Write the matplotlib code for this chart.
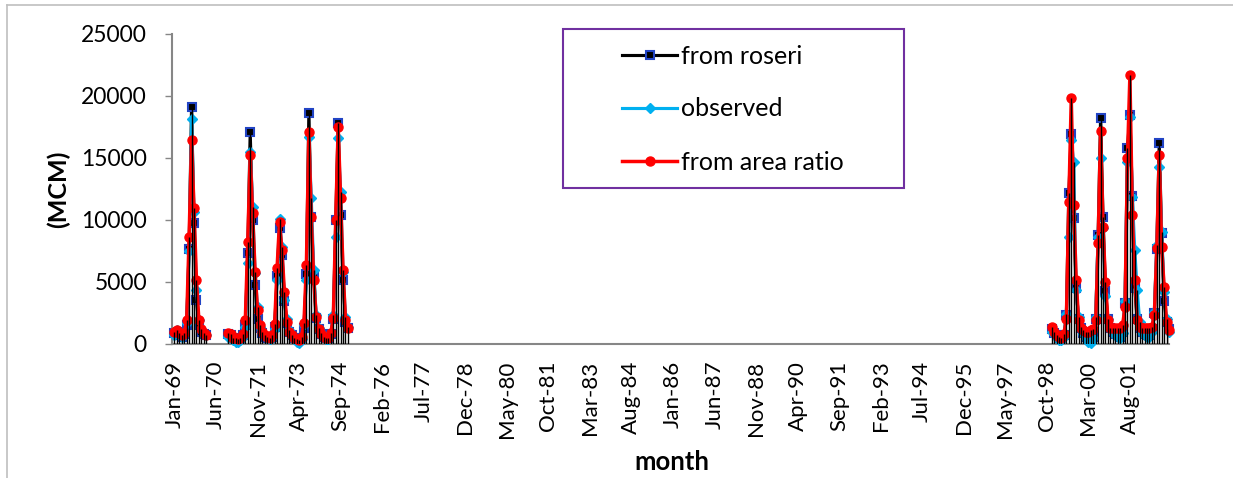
#!/usr/bin/env python3
"""Monthly flow (MCM): generated from Roseiris vs observed vs area-ratio method."""

from datetime import datetime

import matplotlib

matplotlib.use("Agg")
import matplotlib.pyplot as plt  # noqa: E402
import numpy as np  # noqa: E402
from matplotlib.lines import Line2D  # noqa: E402
from matplotlib.patches import Rectangle  # noqa: E402

# ---------------------------------------------------------------------------
# Data (MCM per month)
# ---------------------------------------------------------------------------

FIRST_MONTH = "Jan-69"
LAST_MONTH = "Dec-02"

TICK_LABELS = [
    "Jan-69", "Jun-70", "Nov-71", "Apr-73", "Sep-74", "Feb-76", "Jul-77", "Dec-78",
    "May-80", "Oct-81", "Mar-83", "Aug-84", "Jan-86", "Jun-87", "Nov-88", "Apr-90",
    "Sep-91", "Feb-93", "Jul-94", "Dec-95", "May-97", "Oct-98", "Mar-00", "Aug-01",
]
Y_TICKS = [0, 5000, 10000, 15000, 20000, 25000]

# segment 1: Jan-69 .. Feb-70
SEG1_START = "Jan-69"
ROSERI_1 = [900, 1000, 700, 600, 800, 1500, 7700, 19130, 9750, 3550, 1500, 1000, 800, 700]
OBSERVED_1 = [700, 1100, 800, 600, 900, 1700, 7500, 18110, 10660, 4350, 1900, 1200, 900, 700]
RATIO_1 = [1000, 1100, 900, 700, 900, 1900, 8650, 16440, 10960, 5160, 1930, 1200, 900, 700]

# segment 2: Nov-70 .. Dec-74
SEG2_START = "Nov-70"
ROSERI_2 = [
    800, 700,
    500, 400, 350, 400, 700, 1500, 7330, 17110, 10000, 4750, 2000, 1300,
    900, 600, 500, 450, 600, 1400, 5450, 9350, 7200, 3500, 1700, 1000,
    700, 500, 400, 300, 500, 1300, 5640, 18590, 10260, 5680, 2100, 1200,
    800, 600, 500, 450, 800, 2000, 10000, 17790, 10400, 5200, 1800, 1300,
]
OBSERVED_2 = [
    600, 500,
    300, 200, 200, 300, 600, 1400, 6530, 15500, 11070, 5720, 3000, 1400,
    1000, 700, 500, 400, 500, 1200, 5160, 10050, 7800, 3550, 2000, 1100,
    600, 400, 200, 100, 400, 1500, 5160, 16710, 11740, 5960, 2300, 1300,
    900, 600, 400, 400, 900, 2300, 8650, 16580, 12280, 5800, 2200, 1400,
]
RATIO_2 = [
    900, 800,
    500, 450, 400, 450, 800, 1900, 8250, 15230, 10560, 5830, 2740, 1500,
    1000, 700, 600, 500, 700, 1600, 6130, 9860, 7580, 4190, 1800, 1000,
    700, 500, 400, 300, 600, 1700, 6370, 17110, 10260, 5160, 2200, 1200,
    800, 600, 500, 500, 900, 2100, 9990, 17520, 11770, 5960, 1930, 1300,
]

# segment 3: Dec-98 .. Dec-02
SEG3_START = "Dec-98"
ROSERI_3 = [
    1200,
    900, 700, 500, 400, 700, 2300, 12150, 16970, 10200, 4500, 2000, 1300,
    900, 600, 400, 300, 600, 2000, 8790, 18240, 10260, 4300, 2000, 1300,
    1000, 800, 700, 600, 1000, 3300, 15770, 18500, 11900, 4500, 2000, 1300,
    1000, 800, 700, 700, 1200, 2500, 7700, 16170, 8920, 3500, 1800, 1200,
]
OBSERVED_3 = [
    1000,
    800, 500, 300, 300, 600, 2400, 8650, 16440, 14690, 4350, 2200, 1400,
    800, 500, 200, 100, 500, 2200, 8600, 15020, 9330, 3900, 2000, 1200,
    900, 700, 600, 500, 900, 3500, 14700, 18300, 11870, 7580, 4350, 1800,
    900, 700, 600, 600, 1000, 2600, 7980, 14290, 9000, 4220, 2000, 1000,
]
RATIO_3 = [
    1390,
    1000, 700, 600, 500, 800, 2000, 11470, 19800, 11200, 5200, 1900, 1300,
    1100, 1000, 1000, 1100, 1200, 1900, 8120, 17190, 9450, 5000, 1900, 1300,
    1300, 1300, 1300, 1300, 1500, 3000, 14970, 21680, 10400, 5160, 1900, 1400,
    1300, 1300, 1300, 1300, 1400, 2300, 7710, 15230, 7840, 4620, 1800, 1130,
]

SERIES_LABELS = ["from roseri", "observed", "from area ratio"]


def month_index(label: str) -> int:
    d = datetime.strptime(label, "%b-%y")
    first = datetime.strptime(FIRST_MONTH, "%b-%y")
    return (d.year - first.year) * 12 + (d.month - first.month)


def assemble(segments: list[tuple[str, list[float]]]) -> np.ndarray:
    out = np.full(month_index(LAST_MONTH) + 1, np.nan)
    for start, values in segments:
        i0 = month_index(start)
        out[i0:i0 + len(values)] = values
    return out


def main() -> None:
    plt.rcParams["font.family"] = ["Lato", "DejaVu Sans"]

    roseri = assemble([(SEG1_START, ROSERI_1), (SEG2_START, ROSERI_2), (SEG3_START, ROSERI_3)])
    observed = assemble([(SEG1_START, OBSERVED_1), (SEG2_START, OBSERVED_2), (SEG3_START, OBSERVED_3)])
    ratio = assemble([(SEG1_START, RATIO_1), (SEG2_START, RATIO_2), (SEG3_START, RATIO_3)])
    xs = np.arange(len(roseri))

    W, H = 1233, 478
    fig = plt.figure(figsize=(W / 100, H / 100), dpi=100)
    ax = fig.add_axes([172 / W, 1 - 344 / H, (1169 - 172) / W, 310 / H])

    l1, = ax.plot(xs, roseri, color="black", lw=2.25, marker="s", ms=5.5,
                  mfc="black", mec="#2244C4", mew=1.5, zorder=2, clip_on=False)
    l2, = ax.plot(xs, observed, color="#00B0F0", lw=2.25, marker="D", ms=5,
                  mfc="#00B0F0", mec="#00B0F0", zorder=3, clip_on=False)
    l3, = ax.plot(xs, ratio, color="#FF0000", lw=2.5, marker="o", ms=6.5,
                  mfc="#FF0000", mec="#FF0000", zorder=4, clip_on=False)

    # drop lines from the highest series down to the axis
    top = np.nanmax(np.vstack([roseri, observed, ratio]), axis=0)
    ok = ~np.isnan(top)
    ax.vlines(xs[ok], 0, top[ok], color="black", lw=1.0, zorder=5)

    ax.set_xlim(-1, month_index(LAST_MONTH))
    ax.set_ylim(0, 25000)
    ax.set_yticks(Y_TICKS)
    ax.set_yticklabels([str(v) for v in Y_TICKS])
    ax.set_xticks([month_index(t) for t in TICK_LABELS])
    ax.set_xticklabels(TICK_LABELS, rotation=90)

    for side in ("top", "right"):
        ax.spines[side].set_visible(False)
    for side in ("left", "bottom"):
        ax.spines[side].set_color("#868686")
        ax.spines[side].set_linewidth(1.5)
    ax.tick_params(axis="x", length=0, pad=12, labelsize=16)
    ax.tick_params(axis="y", length=5, width=1, color="#868686", pad=13, labelsize=16.5)

    fig.text(58 / W, 1 - 189 / H, "(MCM)", rotation=90, ha="center", va="center",
             fontsize=18, fontweight="bold")
    fig.text(672 / W, 1 - 462 / H, "month", ha="center", va="center",
             fontsize=18.5, fontweight="bold")

    # legend box
    fig.add_artist(Rectangle((563 / W, 1 - 188 / H), 341 / W, 159 / H,
                             transform=fig.transFigure, fill=False,
                             edgecolor="#7030A0", lw=1.5))
    fig.legend([l1, l2, l3], SERIES_LABELS, loc="center left",
               bbox_to_anchor=(622 / W, 1 - 109 / H), frameon=False, fontsize=18,
               handlelength=2.2, handletextpad=0.15, labelspacing=1.2,
               borderpad=0, borderaxespad=0)

    # outer chart border (left and top edges visible)
    fig.add_artist(Line2D([7 / W, 7 / W], [0, 1 - 5 / H], transform=fig.transFigure,
                          color="#BFBFBF", lw=1.2))
    fig.add_artist(Line2D([7 / W, 1], [1 - 5 / H, 1 - 5 / H], transform=fig.transFigure,
                          color="#BFBFBF", lw=1.2))

    fig.savefig("out.png", dpi=100)
    plt.close(fig)


if __name__ == "__main__":
    main()
